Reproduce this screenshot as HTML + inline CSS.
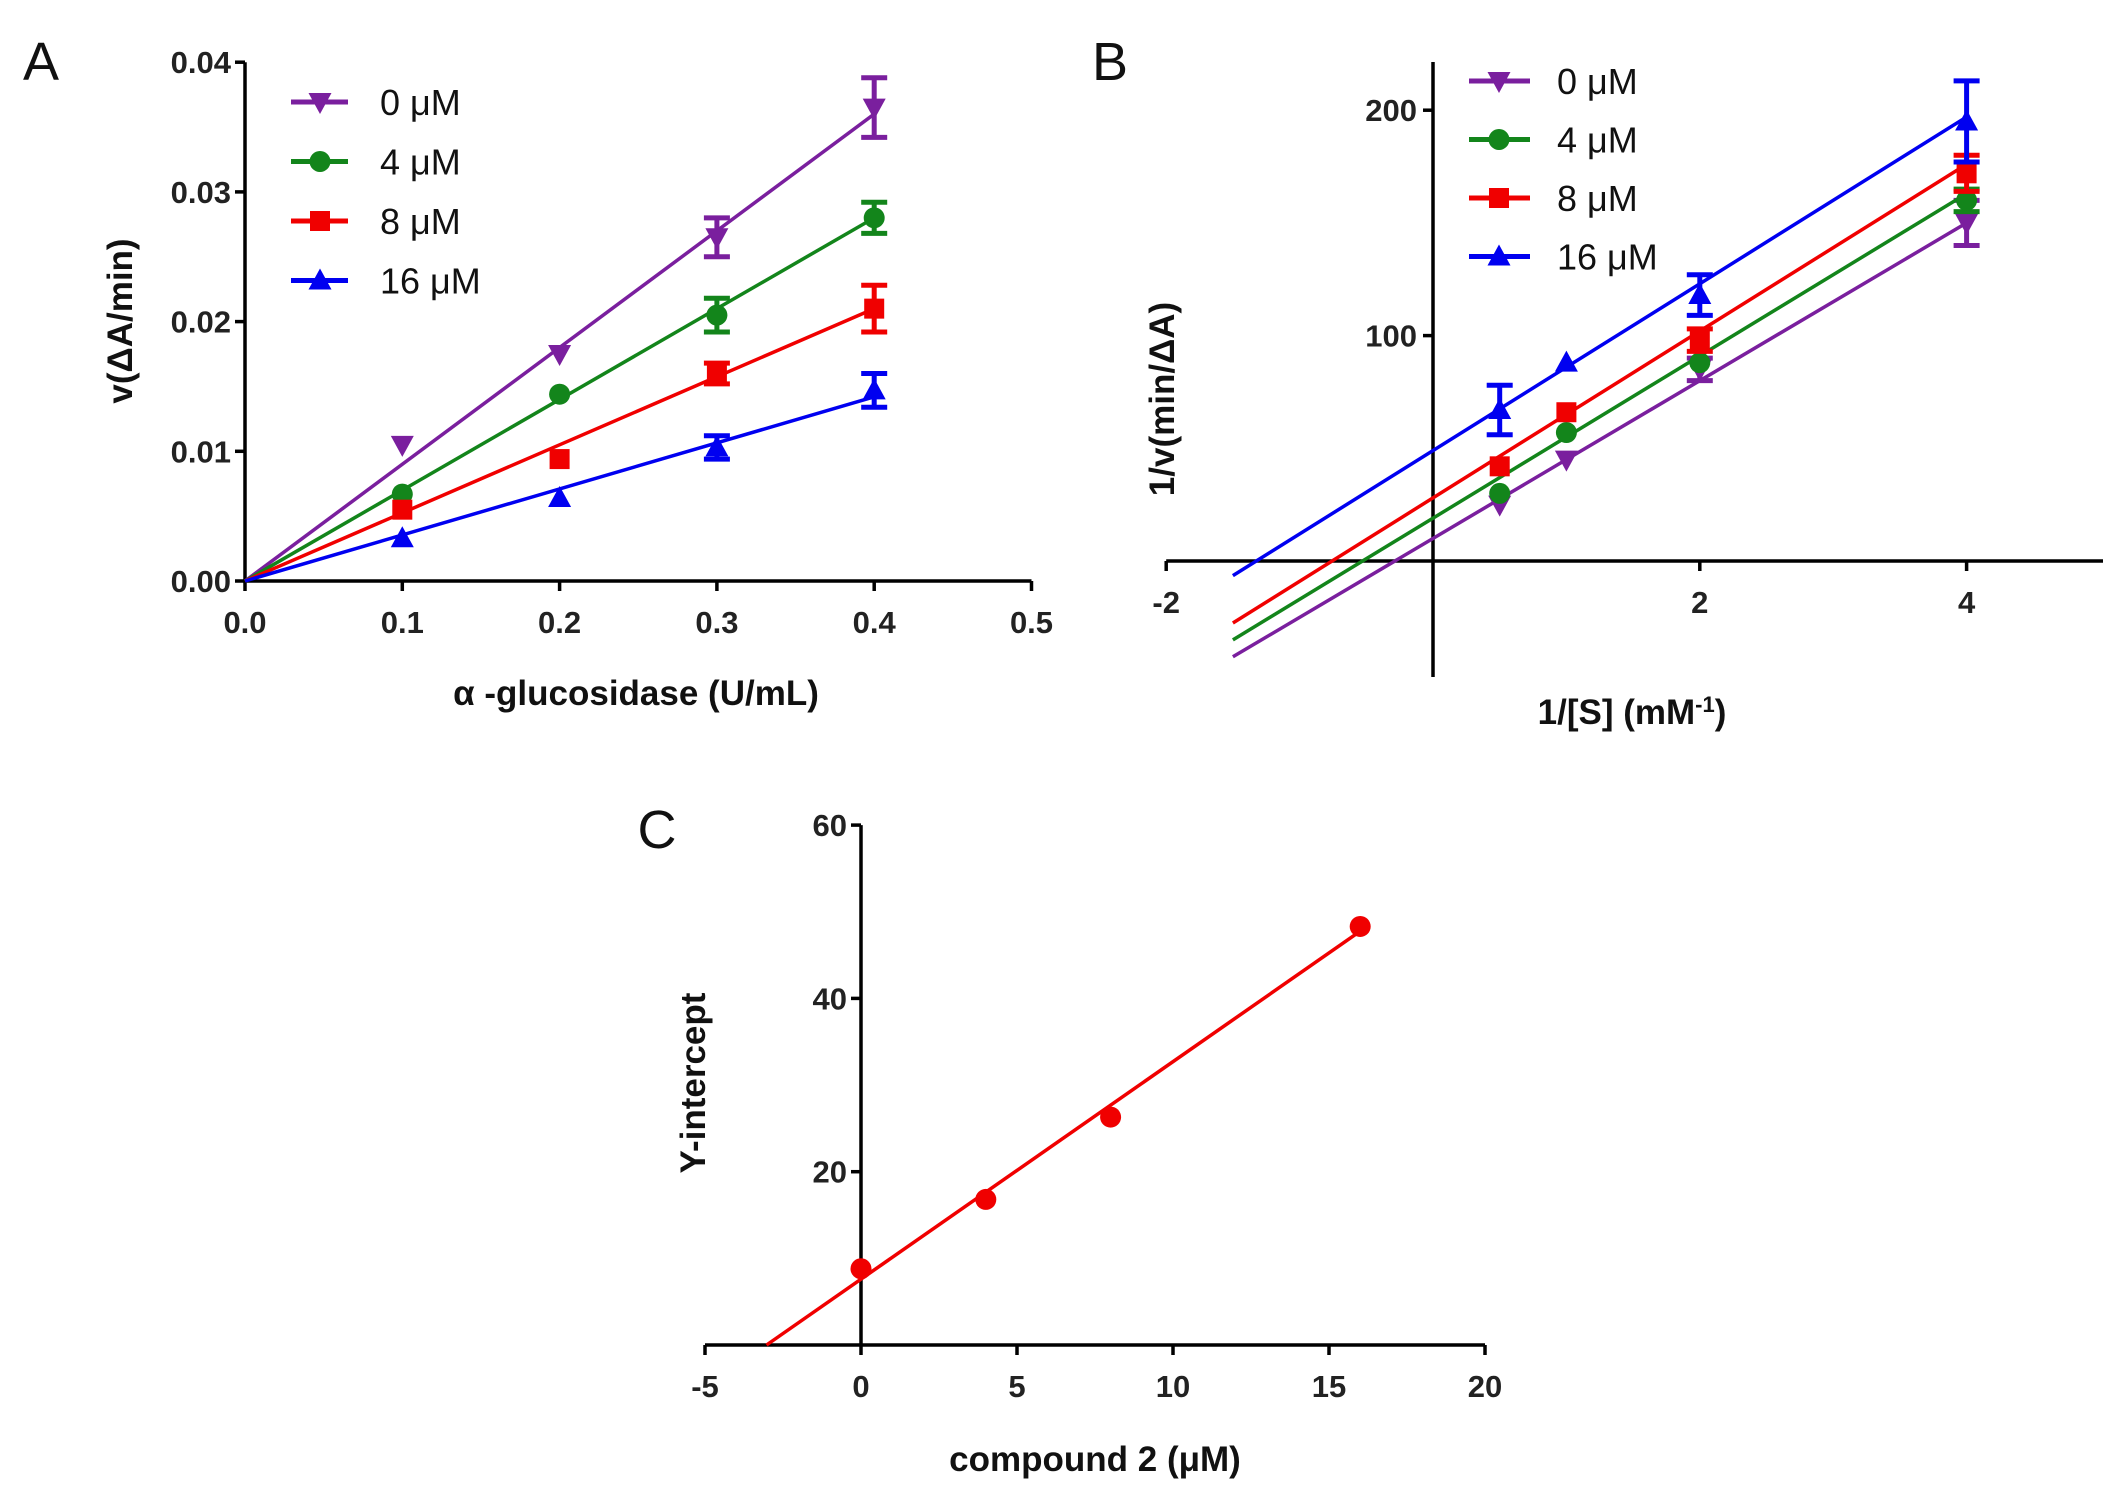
<!DOCTYPE html>
<html><head><meta charset="utf-8"><style>
html,body{margin:0;padding:0;background:#fff}
svg{display:block}
text{font-family:"Liberation Sans",Arial,sans-serif}
.tk{font-size:31px;font-weight:bold;fill:#222}
.ax{font-size:35px;font-weight:bold;fill:#111}
.lg{font-size:36px;fill:#111}
.pl{font-size:54px;fill:#111}
</style></head><body>
<svg id="fig" width="2123" height="1509" viewBox="0 0 2123 1509"></svg>
<script>
// ---- Panel A data ----
const aX = [0.1, 0.2, 0.3, 0.4];
const aLabels = ["0 μM", "4 μM", "8 μM", "16 μM"];
const a0 = [0.0105, 0.0175, 0.0265, 0.0365];
const a4 = [0.0067, 0.0144, 0.0205, 0.028];
const a8 = [0.0055, 0.0094, 0.016, 0.021];
const a16 = [0.0033, 0.0064, 0.0103, 0.0147];
const a0Err = [0, 0, 0.0015, 0.0023];
const a4Err = [0, 0, 0.0013, 0.0012];
const a8Err = [0, 0, 0.0008, 0.0018];
const a16Err = [0, 0, 0.0009, 0.0013];
const aSlopes = [0.09, 0.07, 0.0525, 0.0355];
const aXTicks = [0, 0.1, 0.2, 0.3, 0.4, 0.5];
const aYTicks = [0, 0.01, 0.02, 0.03, 0.04];
// ---- Panel B data ----
const bX = [0.5, 1, 2, 4];
const b0 = [25, 45, 85, 150];
const b4 = [30, 57, 88, 160];
const b8 = [42, 66, 98, 172];
const b16 = [67, 88, 118, 195];
const b0Err = [0, 0, 5, 10];
const b4Err = [0, 0, 0, 5];
const b8Err = [0, 0, 5, 8];
const b16Err = [11, 0, 9, 18];
const bSlopes = [35, 36, 37, 37];
const bIntercepts = [10, 19, 28, 49];
const bXTicks = [-2, 2, 4];
const bYTicks = [100, 200];
// ---- Panel C data ----
const cX = [0, 4, 8, 16];
const cY = [8.8, 16.8, 26.3, 48.3];
const cSlope = 2.51;
const cIntercept = 7.6;
const cXTicks = [-5, 0, 5, 10, 15, 20];
const cYTicks = [20, 40, 60];

const colors = ["#7a1f9e", "#13851b", "#f00000", "#0000f0"];
const shapes = ["tdown", "circle", "square", "tup"];
const NS = "http://www.w3.org/2000/svg";
const svg = document.getElementById('fig');
function mk(tag, attrs, parent, txt) {
  const e = document.createElementNS(NS, tag);
  for (const k in attrs) e.setAttribute(k, attrs[k]);
  if (txt !== undefined) e.textContent = txt;
  (parent || svg).appendChild(e);
  return e;
}
function marker(g, shape, x, y, c, name) {
  let e;
  if (shape === "circle") e = mk('circle', {cx: x, cy: y, r: 10.5, fill: c}, g);
  else if (shape === "square") e = mk('rect', {x: x - 10, y: y - 10, width: 20, height: 20, fill: c}, g);
  else if (shape === "tup") e = mk('polygon', {points: `${x},${y-12} ${x-11.5},${y+9} ${x+11.5},${y+9}`, fill: c}, g);
  else e = mk('polygon', {points: `${x},${y+12} ${x-11.5},${y-9} ${x+11.5},${y-9}`, fill: c}, g);
  
  
}
function errbar(g, x, y1, y2, c) {
  const e = mk('path', {d: `M${x},${y1}V${y2}M${x-13},${y1}H${x+13}M${x-13},${y2}H${x+13}`, stroke: c, 'stroke-width': 5, fill: 'none'}, g);
  
  
}
function text(x, y, s, cls, anchor, name, rot) {
  const t = mk('text', {x: x, y: y, class: cls, 'text-anchor': anchor || 'middle'}, svg, s);
  if (rot) t.setAttribute('transform', `rotate(-90 ${x} ${y})`);
  
  
  return t;
}
function fmt2(v) { return v.toFixed(2); }

// ================= Panel A =================
const AX = v => 245 + v / 0.1 * 157.3;
const AY = v => 581 - v / 0.01 * 129.7;
text(41, 80, "A", "pl", "middle", "panel-a-label");
const gA = mk('g', {});  
let ax = mk('path', {d: `M${AX(0)},${AY(0.04)}V${AY(0)}H${AX(0.5)}`, stroke: '#000', 'stroke-width': 3.5, fill: 'none'}, gA);
 
aYTicks.forEach(v => {
  mk('line', {x1: AX(0) - 10, x2: AX(0), y1: AY(v), y2: AY(v), stroke: '#000', 'stroke-width': 3.5}, gA);
  text(AX(0) - 14, AY(v) + 11, fmt2(v), "tk", "end", "a-y-tick-label");
});
aXTicks.forEach(v => {
  mk('line', {x1: AX(v), x2: AX(v), y1: AY(0), y2: AY(0) + 10, stroke: '#000', 'stroke-width': 3.5}, gA);
  text(AX(v), AY(0) + 52, v.toFixed(1), "tk", "middle", "a-x-tick-label");
});
text(636, 705, "α -glucosidase (U/mL)", "ax", "middle", "a-x-axis-title");
text(132, 321, "v(ΔA/min)", "ax", "middle", "a-y-axis-title", true);
const aSeries = [a0, a4, a8, a16], aErrs = [a0Err, a4Err, a8Err, a16Err];
aSeries.forEach((ser, i) => {
  const c = colors[i];
  const g = mk('g', {}, gA);  
  const l = mk('line', {x1: AX(0), y1: AY(0), x2: AX(0.4), y2: AY(aSlopes[i] * 0.4), stroke: c, 'stroke-width': 3.5}, g);
   
  ser.forEach((v, j) => {
    const e = aErrs[i][j];
    if (e > 0) errbar(g, AX(aX[j]), AY(v - e), AY(v + e), c);
    marker(g, shapes[i], AX(aX[j]), AY(v), c, 'a-point');
  });
  const ly = 102 + i * 59.5;
  const lg = mk('g', {}, gA);  
  mk('line', {x1: 291, x2: 348, y1: ly, y2: ly, stroke: c, 'stroke-width': 5}, lg);
  marker(lg, shapes[i], 320, ly, c, 'a-legend-marker');
  text(380, ly + 13, aLabels[i], "lg", "start", "a-legend-label");
});

// ================= Panel B =================
const BX = v => 1433 + v * 133.4;
const BY = v => 561 - v * 2.254;
text(1110, 80, "B", "pl", "middle", "panel-b-label");
const gB = mk('g', {});  
ax = mk('path', {d: `M${BX(0)},62V677M${BX(-2)},${BY(0)}H2103`, stroke: '#000', 'stroke-width': 3.5, fill: 'none'}, gB);
 
bYTicks.forEach(v => {
  mk('line', {x1: BX(0) - 10, x2: BX(0), y1: BY(v), y2: BY(v), stroke: '#000', 'stroke-width': 3.5}, gB);
  text(BX(0) - 16, BY(v) + 11, String(v), "tk", "end", "b-y-tick-label");
});
bXTicks.forEach(v => {
  mk('line', {x1: BX(v), x2: BX(v), y1: BY(0), y2: BY(0) + 10, stroke: '#000', 'stroke-width': 3.5}, gB);
  text(BX(v), BY(0) + 52, String(v), "tk", "middle", "b-x-tick-label");
});
const bxl = text(1632, 724, "1/[S] (mM", "ax", "middle", "b-x-axis-title");
mk('tspan', {'baseline-shift': 'super', 'font-size': '22'}, bxl, "-1");
mk('tspan', {}, bxl, ")");
text(1174, 399, "1/v(min/ΔA)", "ax", "middle", "b-y-axis-title", true);
const bSeries = [b0, b4, b8, b16], bErrs = [b0Err, b4Err, b8Err, b16Err];
bSeries.forEach((ser, i) => {
  const c = colors[i];
  const g = mk('g', {}, gB);  
  const l = mk('line', {x1: BX(-1.5), y1: BY(bIntercepts[i] - 1.5 * bSlopes[i]), x2: BX(4), y2: BY(bIntercepts[i] + 4 * bSlopes[i]), stroke: c, 'stroke-width': 3.5}, g);
   
  ser.forEach((v, j) => {
    const e = bErrs[i][j];
    if (e > 0) errbar(g, BX(bX[j]), BY(v - e), BY(v + e), c);
    marker(g, shapes[i], BX(bX[j]), BY(v), c, 'b-point');
  });
  const ly = 81 + i * 58.5;
  const lg = mk('g', {}, gB);  
  mk('line', {x1: 1469, x2: 1530, y1: ly, y2: ly, stroke: c, 'stroke-width': 5}, lg);
  marker(lg, shapes[i], 1499, ly, c, 'b-legend-marker');
  text(1557, ly + 13, aLabels[i], "lg", "start", "b-legend-label");
});

// ================= Panel C =================
const CX = v => 861 + v / 5 * 156;
const CY = v => 1345 - v / 20 * 173.3;
text(657, 848, "C", "pl", "middle", "panel-c-label");
const gC = mk('g', {});  
ax = mk('path', {d: `M${CX(0)},${CY(60)}V${CY(0)}M${CX(-5)},${CY(0)}H${CX(20)}`, stroke: '#000', 'stroke-width': 3.5, fill: 'none'}, gC);
 
cYTicks.forEach(v => {
  mk('line', {x1: CX(0) - 10, x2: CX(0), y1: CY(v), y2: CY(v), stroke: '#000', 'stroke-width': 3.5}, gC);
  text(CX(0) - 14, CY(v) + 11, String(v), "tk", "end", "c-y-tick-label");
});
cXTicks.forEach(v => {
  mk('line', {x1: CX(v), x2: CX(v), y1: CY(0), y2: CY(0) + 10, stroke: '#000', 'stroke-width': 3.5}, gC);
  text(CX(v), CY(0) + 52, String(v), "tk", "middle", "c-x-tick-label");
});
text(1095, 1471, "compound 2 (μM)", "ax", "middle", "c-x-axis-title");
text(705, 1083, "Y-intercept", "ax", "middle", "c-y-axis-title", true);
const xz = -cIntercept / cSlope;
const cl = mk('line', {x1: CX(xz), y1: CY(0), x2: CX(16), y2: CY(cIntercept + 16 * cSlope), stroke: '#f00000', 'stroke-width': 3.5}, gC);
 
cX.forEach((x, j) => marker(gC, "circle", CX(x), CY(cY[j]), '#f00000', 'c-point'));
</script>
</body></html>
